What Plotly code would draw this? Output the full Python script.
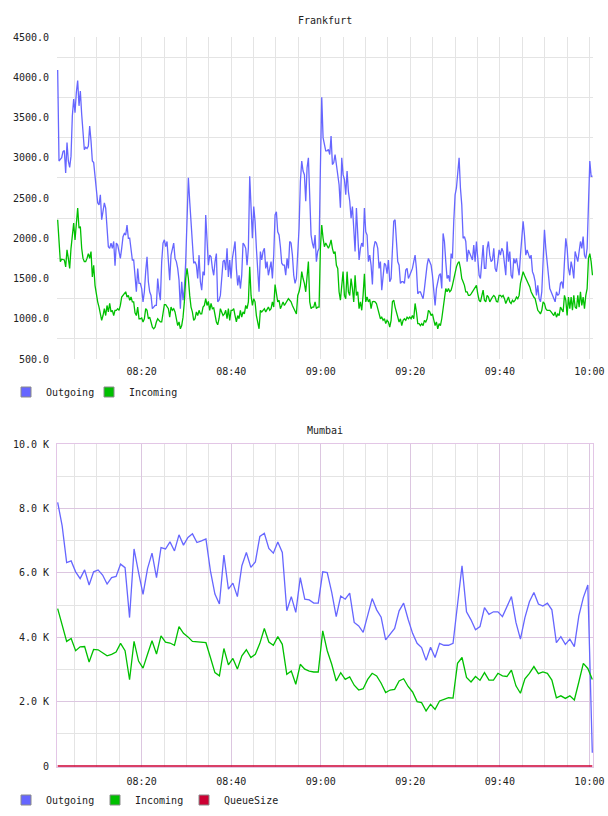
import pandas as pd
import plotly.graph_objects as go

# ---------------- data ----------------
# Frankfurt (raw units), sampled ~every 18 s from 08:01 to 10:00
fra_out = [
    4090, 2960, 2980, 3000, 3075, 3090, 2810, 3190, 2960, 2880,
    3020, 3520, 3730, 3560, 3810, 3960, 3645, 3830, 3540, 3270,
    3100, 3130, 3115, 3145, 3395, 3210, 2960, 2940, 2790, 2560,
    2440, 2415, 2540, 2230, 2330, 2440, 2375, 2125, 1895, 1875,
    1940, 1875, 1960, 1660, 1940, 1915, 1835, 1750, 1875, 2020,
    2060, 2040, 2165, 2000, 2000, 1875, 1730, 1730, 1500, 1335,
    1625, 1440, 1440, 1375, 1210, 1335, 1585, 1770, 1460, 1335,
    1290, 1125, 1145, 1165, 1165, 1500, 1335, 1230, 1710, 1940,
    1980, 1895, 1960, 1710, 1480, 1790, 1855, 1940, 1750, 1710,
    1625, 1480, 1125, 1460, 1230, 1375, 1710, 2330, 2750, 2460,
    2230, 2020, 1690, 1710, 1665, 1500, 1790, 1460, 1355, 1585,
    1540, 2290, 1875, 1665, 1790, 1770, 1625, 1540, 1710, 1810,
    1210, 1230, 1290, 1540, 1710, 1730, 1605, 1875, 1520, 1730,
    1500, 1750, 1895, 1960, 1625, 1415, 1540, 1375, 1540, 1940,
    1915, 1875, 1665, 1875, 2770, 2310, 2000, 2395, 2210, 1875,
    1500, 1335, 1835, 1730, 1835, 1875, 1625, 1710, 1540, 1625,
    1710, 1500, 1790, 2290, 2330, 2080, 2040, 1895, 1690, 1665,
    1665, 1540, 1750, 1625, 1960, 1940, 1790, 1540, 1440, 1500,
    1750, 2125, 2710, 2960, 2835, 2790, 2460, 2875, 3000, 2460,
    2040, 1940, 1875, 2040, 1710, 1835, 1875, 2875, 3750, 3250,
    3165, 3085,
    3085, 3105, 3040, 3270, 2915, 2940, 3040, 2915, 2750, 2665,
    2380, 3000, 2790, 2730, 2540, 2835, 2580, 2460, 2250, 2395,
    2125, 1835, 2375, 2040, 1730, 1875, 1940, 1895, 2375, 2080,
    2040, 1710, 1790, 1665, 1425, 1875, 1960, 1940, 1875, 1625,
    1710, 1355, 1540, 1690, 1665, 1560, 1730, 1460, 1500, 1960,
    2210, 2230, 1960, 1710, 1665, 1440, 1460, 1460, 1440, 1605,
    1625, 1500, 1540, 1585, 1625, 1710, 1790, 1625, 1310, 1335,
    1335, 1290, 1250, 1375, 1540, 1665, 1750, 1710, 1665, 1540,
    1335, 1165, 1375, 1460, 1540, 1560, 1375, 2060, 1960, 1710,
    1500, 1540, 1460, 1810, 1750, 2210, 2540, 2625, 2790, 3000,
    2625, 2415, 2000, 2020, 1960, 1710, 1855, 1810, 1750, 1730,
    1915, 1710, 1960, 1730, 1540, 1500, 1665, 1915, 1625, 1625,
    1875, 1960, 1790, 1710, 1730, 1875, 1625, 1585, 1710, 1855,
    1790, 1875, 1835, 1710, 1540, 1960, 1710, 1835, 1540, 1500,
    1750, 1690, 1750, 1645, 1540, 1790, 1960, 2210, 2040, 1790,
    1855, 1810, 1750, 1790, 1585, 1540, 1460, 1290, 1415, 1250,
    1210, 1335, 1710, 2105, 1875, 1710, 1460, 1375, 1335, 1290,
    1250, 1210, 1335, 1290, 1310, 1440, 1460, 1375, 1710, 2000,
    1875, 1625, 1540, 1710, 1625, 1500, 1835, 1750, 1710, 1835,
    1960, 1875, 2020, 1790, 1750, 1875, 2540, 2960, 2770, 2770,
]
fra_in = [
    2230, 1915, 1710, 1740, 1730, 1730, 1645, 1855, 1750, 1625,
    1875, 2080, 2190, 1980, 2210, 2375, 2125, 2145, 1875, 1750,
    1710, 1710, 1750, 1810, 1750, 1835, 1520, 1665, 1415, 1290,
    1210, 1145, 1040, 980, 1040, 1125, 1040, 1165, 1085, 1190,
    1085, 1105, 1040, 1105, 1105, 1125, 1105, 1165, 1270, 1290,
    1310, 1335, 1270, 1290, 1230, 1270, 1210, 1210, 1075, 1040,
    1145, 1000, 1000, 1010, 960, 1000, 1125, 1105, 1000, 1020,
    960, 895, 875, 895, 960, 1000, 980, 960, 960, 1105,
    1175, 1175, 1145, 1125, 1020, 1145, 1105, 1125, 1085, 1000,
    915, 960, 875, 915, 1020, 1210, 1500, 1625, 1500, 1290,
    1145, 1085, 980, 1000, 1085, 1040, 1105, 1060, 1060, 1145,
    1165, 1250, 1165, 1215, 1105, 1190, 1125, 1135, 1040, 960,
    925, 1000, 1125, 1085, 1040, 1060, 1105, 1000, 1125, 980,
    1105, 1105, 1125, 1040, 960, 1040, 1000, 1105, 1020, 1085,
    1060, 1165, 1125, 1210, 1645, 1290, 1165, 1250, 1210, 1040,
    960, 875, 1105, 1085, 1105, 1125, 1085, 1125, 1145, 1105,
    1125, 1210, 1145, 1425, 1290, 1210, 1230, 1125, 1165, 1210,
    1165, 1190, 1210, 1250, 1230, 1210, 1165, 1125, 1085, 1060,
    1290, 1335, 1415, 1585, 1500, 1440, 1335, 1540, 1710, 1210,
    1125, 1145, 1145, 1210, 1125, 1145, 1145, 1875, 2165, 2000,
    1895, 1940,
    1895, 1875, 1915, 1980, 1875, 1810, 1835, 1665, 1625, 1335,
    1230, 1375, 1585, 1290, 1250, 1585, 1335, 1290, 1500, 1375,
    1210, 1540, 1290, 1335, 1125, 1210, 1105, 1290, 1560, 1210,
    1270, 1210, 1240, 1125, 1210, 1215, 1210, 1190, 1125, 1040,
    1000, 1020, 980, 1000, 940, 980, 960, 895, 980, 1210,
    1230, 1145, 1085, 1000, 960, 1000, 915, 980, 1000, 980,
    1020, 1000, 1020, 1000, 1040, 1000, 1190, 1085, 940, 940,
    915, 940, 915, 980, 960, 1000, 1105, 1085, 1040, 1060,
    1000, 915, 960, 875, 940, 915, 1000, 1145, 1250, 1375,
    1335, 1375, 1335, 1355, 1415, 1500, 1585, 1645, 1690, 1710,
    1625, 1500, 1460, 1415, 1335, 1335, 1290, 1290, 1310, 1335,
    1355, 1375, 1415, 1310, 1230, 1210, 1310, 1355, 1230, 1210,
    1290, 1270, 1210, 1250, 1270, 1290, 1270, 1215, 1210, 1290,
    1290, 1270, 1290, 1250, 1190, 1230, 1270, 1210, 1190, 1230,
    1210, 1230, 1270, 1250, 1290, 1440, 1520, 1585, 1540, 1500,
    1460, 1440, 1395, 1335, 1290, 1270, 1250, 1165, 1105, 1085,
    1060, 1105, 1210, 1190, 1125, 1105, 1105, 1105, 1085, 1060,
    1040, 1085, 1020, 1060, 1040, 1145, 1105, 1085, 1290, 1230,
    1040, 1270, 1125, 1270, 1105, 1290, 1145, 1125, 1290, 1145,
    1335, 1165, 1270, 1125, 1290, 1375, 1750, 1810, 1710, 1540,
]

# Mumbai (thousands), sampled ~every minute from 08:01 to 10:00
mum_out_k = [
    8.19, 7.46, 6.32, 6.37, 6.03, 5.82, 6.09, 5.62, 6.03, 6.09,
    5.93, 5.65, 5.85, 5.89, 6.27, 6.16, 4.61, 6.74, 6.01, 5.33,
    6.13, 6.61, 5.85, 6.78, 6.74, 6.96, 6.68, 7.18, 6.86, 7.10,
    7.21, 6.94, 6.99, 7.05, 6.06, 5.34, 5.03, 6.55, 5.49, 5.68,
    5.26, 6.22, 6.63, 6.17, 6.34, 7.13, 7.23, 6.76, 6.61, 6.96,
    6.63, 4.82, 5.26, 4.77, 5.85, 5.18, 5.16, 5.06, 5.06, 6.03,
    6.01, 5.39, 4.64, 5.28, 5.18, 5.37, 4.46, 4.35, 4.15, 4.66,
    5.20, 4.85, 4.62, 3.92, 4.09, 4.27, 4.82, 5.06, 4.56, 4.12,
    3.81, 3.68, 3.28, 3.69, 3.37, 3.81, 3.75, 3.75, 3.81, 4.97,
    6.22, 4.79, 4.54, 4.23, 4.33, 4.92, 4.71, 4.79, 4.79, 4.64,
    4.97, 5.26, 4.46, 3.94, 4.61, 5.10, 5.39, 5.03, 4.97, 5.06,
    4.85, 3.83, 4.02, 3.78, 3.94, 3.71, 4.66, 5.23, 5.62, 0.41,
]
mum_in_k = [
    4.89, 4.40, 3.87, 3.96, 3.58, 3.70, 3.71, 3.23, 3.62, 3.61,
    3.52, 3.42, 3.47, 3.54, 3.81, 3.58, 2.68, 3.87, 3.26, 3.04,
    3.47, 3.89, 3.48, 4.04, 3.85, 3.82, 3.75, 4.33, 4.12, 4.01,
    3.87, 3.85, 3.85, 3.83, 3.37, 2.90, 2.80, 3.65, 3.14, 3.34,
    3.01, 3.42, 3.61, 3.37, 3.47, 3.81, 4.27, 3.85, 3.75, 4.02,
    3.78, 2.85, 2.95, 2.54, 3.16, 3.01, 2.95, 2.92, 2.92, 4.20,
    3.58, 3.16, 2.64, 2.90, 2.69, 2.77, 2.51, 2.36, 2.40, 2.69,
    2.88, 2.80, 2.57, 2.28, 2.36, 2.38, 2.64, 2.71, 2.47, 2.30,
    2.00, 1.97, 1.71, 1.92, 1.76, 2.02, 2.07, 2.12, 2.11, 3.19,
    3.37, 2.75, 2.61, 2.78, 2.66, 2.90, 2.67, 2.67, 2.88, 2.80,
    2.78, 2.98, 2.49, 2.26, 2.71, 2.88, 3.09, 2.87, 2.92, 2.88,
    2.67, 2.12, 2.18, 2.10, 2.18, 2.05, 2.61, 3.19, 3.03, 2.69,
]
mum_queue_k = [
    0, 0, 0, 0, 0, 0, 0, 0, 0, 0, 0, 0, 0, 0, 0, 0, 0, 0, 0, 0,
    0, 0, 0, 0, 0, 0, 0, 0, 0, 0, 0, 0, 0, 0, 0, 0, 0, 0, 0, 0,
    0, 0, 0, 0, 0, 0, 0, 0, 0, 0, 0, 0, 0, 0, 0, 0, 0, 0, 0, 0,
    0, 0, 0, 0, 0, 0, 0, 0, 0, 0, 0, 0, 0, 0, 0, 0, 0, 0, 0, 0,
    0, 0, 0, 0, 0, 0, 0, 0, 0, 0, 0, 0, 0, 0, 0, 0, 0, 0, 0, 0,
    0, 0, 0, 0, 0, 0, 0, 0, 0, 0, 0, 0, 0, 0, 0, 0, 0, 0, 0, 0,
]

mum_ytick_vals = [0, 2, 4, 6, 8, 10]
mum_ytick_text = ["0", "2.0 K", "4.0 K", "6.0 K", "8.0 K", "10.0 K"]

titles = ["Frankfurt", "Mumbai"]
series_names = ["Outgoing", "Incoming", "QueueSize"]

DAY = "2013-05-06 "
fra_t = pd.date_range(DAY + "08:01:15", periods=len(fra_out), freq="17870ms")
mum_t = pd.date_range(DAY + "08:01:15", periods=len(mum_out_k), freq="60200ms")
x_range = [DAY + "08:01:06", DAY + "10:00:48"]

# ---------------- style ----------------
FONT = "DejaVu Sans Mono"
TXT = "#222222"
C_OUT = "#6666ff"
C_IN = "#00c000"
C_Q = "#cc0033"
GRID = "#e4e4e4"
PURPLE_GRID = "#dcc6e0"
FRAME = "#e3c6e6"

W, H = 608, 816


def px_x(p):
    return p / W


def px_y(p):
    return 1 - p / H


fig = go.Figure()

# Frankfurt lines
fig.add_trace(go.Scatter(x=fra_t, y=fra_out, mode="lines", line=dict(color=C_OUT, width=1.3),
                         showlegend=False, xaxis="x", yaxis="y", hoverinfo="skip"))
fig.add_trace(go.Scatter(x=fra_t, y=fra_in, mode="lines", line=dict(color=C_IN, width=1.3),
                         showlegend=False, xaxis="x", yaxis="y", hoverinfo="skip"))
# Mumbai lines
fig.add_trace(go.Scatter(x=mum_t, y=mum_out_k, mode="lines", line=dict(color=C_OUT, width=1.3),
                         showlegend=False, xaxis="x2", yaxis="y2", hoverinfo="skip"))
fig.add_trace(go.Scatter(x=mum_t, y=mum_in_k, mode="lines", line=dict(color=C_IN, width=1.3),
                         showlegend=False, xaxis="x2", yaxis="y2", hoverinfo="skip"))
fig.add_trace(go.Scatter(x=mum_t, y=mum_queue_k, mode="lines", line=dict(color=C_Q, width=1.6),
                         showlegend=False, xaxis="x2", yaxis="y2", hoverinfo="skip"))


def legend_item(name, color, legend, xa, ya, visible_marker=True):
    if visible_marker:
        marker = dict(symbol="square", size=10, color=color, line=dict(color="#8a8a8a", width=1))
    else:
        marker = dict(symbol="square", size=1, color="rgba(0,0,0,0)", line=dict(width=0))
    return go.Scatter(x=[None], y=[None], mode="markers", name=name, legend=legend,
                      xaxis=xa, yaxis=ya, marker=marker)


fig.add_trace(legend_item(series_names[0], C_OUT, "legend", "x", "y"))
fig.add_trace(legend_item(series_names[1], C_IN, "legend", "x", "y"))
fig.add_trace(legend_item(" ", None, "legend", "x", "y", visible_marker=False))
fig.add_trace(legend_item(series_names[0], C_OUT, "legend2", "x2", "y2"))
fig.add_trace(legend_item(series_names[1], C_IN, "legend2", "x2", "y2"))
fig.add_trace(legend_item(series_names[2], C_Q, "legend2", "x2", "y2"))
fig.add_trace(legend_item(" ", None, "legend2", "x2", "y2", visible_marker=False))

xdom = [px_x(57), px_x(593)]
tickfont = dict(family=FONT, size=10, color=TXT)

common_x = dict(
    type="date", range=x_range, domain=xdom,
    tickformat="%H:%M", tick0=DAY + "08:00", dtick=1200000,
    ticks="outside", tickcolor="rgba(0,0,0,0)",
    tickfont=tickfont, zeroline=False, fixedrange=True, automargin=False,
)

fig.update_layout(
    width=W, height=H,
    margin=dict(l=0, r=0, t=0, b=0, autoexpand=False),
    paper_bgcolor="white", plot_bgcolor="white",
    font=dict(family=FONT, size=10, color=TXT),
    xaxis=dict(**common_x, anchor="y", ticklen=3, showgrid=True, gridcolor=GRID, gridwidth=1,
               minor=dict(dtick=300000, tick0=DAY + "08:00", showgrid=True, gridcolor=GRID, gridwidth=1),
               showline=False),
    yaxis=dict(domain=[px_y(359), px_y(37)], anchor="x", range=[500, 4500],
               tickmode="linear", tick0=500, dtick=500, tickformat=".1f",
               ticks="outside", ticklen=5, tickcolor="rgba(0,0,0,0)", automargin=False,
               tickfont=tickfont, showgrid=False, zeroline=False, showline=False,
               minor=dict(tickmode="linear", tick0=750, dtick=500, showgrid=True,
                          gridcolor=GRID, gridwidth=1)),
    xaxis2=dict(**common_x, anchor="y2", ticklen=5, showgrid=True, gridcolor=PURPLE_GRID, gridwidth=1,
                minor=dict(dtick=300000, tick0=DAY + "08:00", showgrid=True, gridcolor=GRID, gridwidth=1),
                showline=True, linecolor=FRAME, linewidth=1, mirror=True),
    yaxis2=dict(domain=[px_y(767), px_y(444)], anchor="x2", range=[-0.03, 10],
                tickmode="array", tickvals=mum_ytick_vals, ticktext=mum_ytick_text,
                ticks="outside", ticklen=5, tickcolor="rgba(0,0,0,0)", automargin=False,
                tickfont=tickfont, showgrid=True, gridcolor=PURPLE_GRID, gridwidth=1,
                zeroline=False, showline=True, linecolor=FRAME, linewidth=1, mirror=True,
                minor=dict(tickmode="linear", tick0=0, dtick=1, showgrid=True,
                           gridcolor=GRID, gridwidth=1)),
    legend=dict(orientation="h", x=px_x(6), y=px_y(392), xanchor="left", yanchor="middle",
                font=dict(family=FONT, size=10, color=TXT), bgcolor="rgba(0,0,0,0)",
                itemwidth=30, entrywidth=38, entrywidthmode="pixels", tracegroupgap=0,
                itemclick=False, itemdoubleclick=False),
    legend2=dict(orientation="h", x=px_x(6), y=px_y(800), xanchor="left", yanchor="middle",
                 font=dict(family=FONT, size=10, color=TXT), bgcolor="rgba(0,0,0,0)",
                 itemwidth=30, entrywidth=44, entrywidthmode="pixels", tracegroupgap=0,
                 itemclick=False, itemdoubleclick=False),
    annotations=[
        dict(text=titles[0], x=(xdom[0] + xdom[1]) / 2, y=px_y(20), xref="paper", yref="paper",
             xanchor="center", yanchor="middle", showarrow=False,
             font=dict(family=FONT, size=10, color=TXT)),
        dict(text=titles[1], x=(xdom[0] + xdom[1]) / 2, y=px_y(430), xref="paper", yref="paper",
             xanchor="center", yanchor="middle", showarrow=False,
             font=dict(family=FONT, size=10, color=TXT)),
    ],
    hovermode=False,
)

fig.write_html("out.html")
